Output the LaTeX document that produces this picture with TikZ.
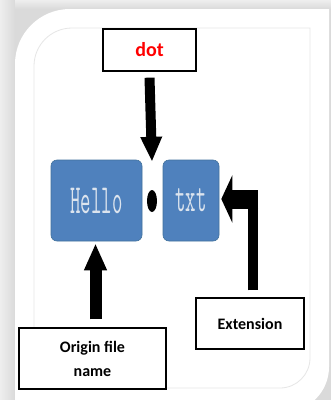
\documentclass[tikz,border=0pt]{standalone}
\usepackage{fontspec}
\setmainfont{Carlito}
\usetikzlibrary{arrows.meta,calc,shapes.geometric}

\definecolor{framegray}{HTML}{DADADA}
\definecolor{framelight}{HTML}{EEEEEE}
\definecolor{innerline}{HTML}{E6E6E6}
\definecolor{tileblue}{HTML}{4F81BD}
\definecolor{tileedge}{HTML}{41719C}
\definecolor{tiletext}{HTML}{DCE4EE}

\tikzset{
  label box/.style={draw=black, line width=1.3pt, fill=white, inner sep=0pt,
    font=\bfseries\fontsize{16}{24}\selectfont, align=center},
  tile/.style={draw=tileedge, line width=0.6pt, fill=tileblue, rounded corners=6pt,
    inner sep=0pt, text=tiletext},
  block arrow/.style={line width=10pt, draw=black},
}

% tall, narrow typewriter lettering inside the blue tiles
\newcommand{\tiletext}[1]{\scalebox{1}[2.05]{\ttfamily\fontsize{20.2}{21}\selectfont #1}}

\begin{document}
\begin{tikzpicture}[x=1pt,y=-1pt]
  \useasboundingbox (0,0) rectangle (331,400);

  % grey frame around the page
  \fill[framegray] (0,0) rectangle (331,400);
  \shade[left color=framelight, right color=framegray] (0,0) rectangle (15,400);
  \shade[top color=framelight, bottom color=framegray] (15,0) rectangle (331,9);

  % white page with two rounded corners
  \fill[white] (15,420) -- (15,64) arc[start angle=180, end angle=270, radius=55]
    -- (329,9) -- (329,367) arc[start angle=0, end angle=90, radius=45]
    -- (15,412) -- cycle;
  \draw[innerline, line width=0.8pt] (34,388) -- (34,66)
    arc[start angle=180, end angle=270, radius=38]
    -- (310,28) -- (310,358) arc[start angle=0, end angle=90, radius=30] -- cycle;

  % file name parts
  \node[tile, minimum width=91pt, minimum height=81pt] (hello) at (96.5,200.5) {\tiletext{Hello}};
  \node[tile, minimum width=56pt, minimum height=81pt] (txt) at (191,200.5) {\tiletext{txt}};
  \node[fill=black, ellipse, minimum width=10pt, minimum height=22pt, inner sep=0pt] (sep) at (152,201) {};

  % labels
  \node[label box, minimum width=93pt, minimum height=42pt, text=red,
        font=\bfseries\fontsize{20}{24}\selectfont] (dotbox) at (149.5,50) {dot};
  \node[label box, minimum width=108pt, minimum height=51pt] (extbox) at (250,323.5) {Extension};
  \node[label box, minimum width=147pt, minimum height=61pt] (origbox) at (92.5,358.5) {Origin file\\name};

  % arrow ends
  \coordinate (dottip) at ($(sep.north)+(0,-28)$);
  \coordinate (origtip) at ($(hello.south)+(-1,2)$);
  \coordinate (bend) at (253,199);

  % arrows
  \draw[block arrow, -{Triangle[length=25pt, width=20pt]}]
    ([yshift=-6pt]dotbox.south) -- (dottip);
  \draw[block arrow, line width=12pt, -{Triangle[length=27pt, width=21pt]}]
    ([yshift=8pt]origbox.north -| origtip) -- (origtip);
  \draw[block arrow] ([yshift=7pt]extbox.north -| bend) -- ([yshift=9.5pt]bend);
  \draw[block arrow, line width=19pt, -{Triangle[length=11pt, width=47pt]}]
    ([xshift=5pt]bend) -- ([xshift=2pt]txt.east |- bend);
\end{tikzpicture}
\end{document}
